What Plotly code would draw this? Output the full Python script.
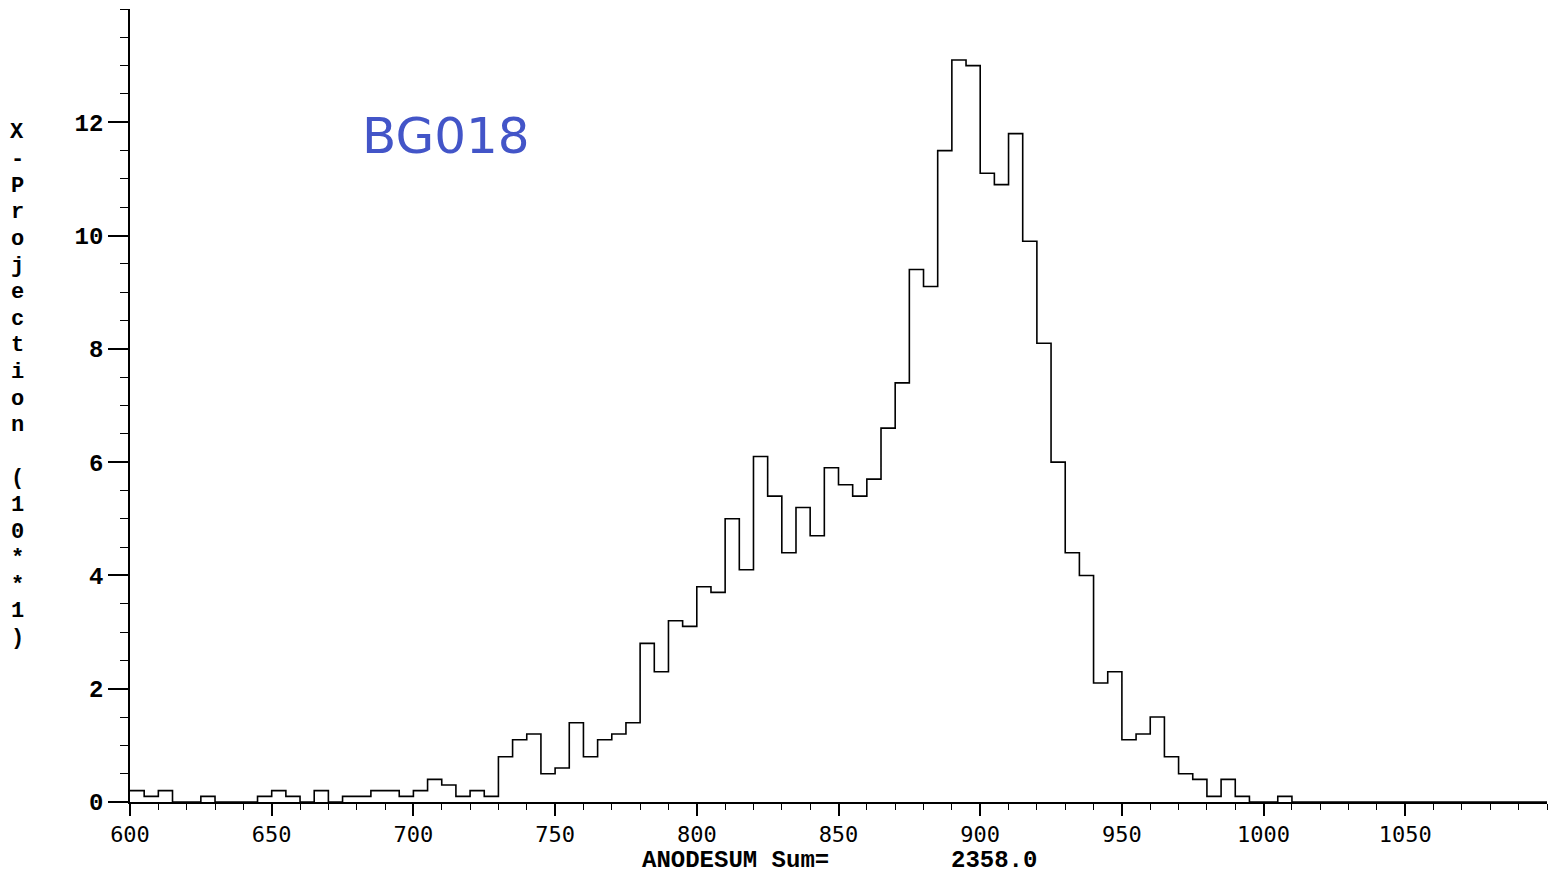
import plotly.graph_objects as go

# ---- data (values in units of 10**1 counts), bins of width 5 from 600 ----
bin_start = 600
bin_width = 5
counts = [
    0.2, 0.1, 0.2, 0.0, 0.0, 0.1, 0.0, 0.0, 0.0, 0.1,   # 600-645
    0.2, 0.1, 0.0, 0.2, 0.0, 0.1, 0.1, 0.2, 0.2, 0.1,   # 650-695
    0.2, 0.4, 0.3, 0.1, 0.2, 0.1, 0.8, 1.1, 1.2, 0.5,   # 700-745
    0.6, 1.4, 0.8, 1.1, 1.2, 1.4, 2.8, 2.3, 3.2, 3.1,   # 750-795
    3.8, 3.7, 5.0, 4.1, 6.1, 5.4, 4.4, 5.2, 4.7, 5.9,   # 800-845
    5.6, 5.4, 5.7, 6.6, 7.4, 9.4, 9.1, 11.5, 13.1, 13.0,  # 850-895
    11.1, 10.9, 11.8, 9.9, 8.1, 6.0, 4.4, 4.0, 2.1, 2.3,  # 900-945
    1.1, 1.2, 1.5, 0.8, 0.5, 0.4, 0.1, 0.4, 0.1, 0.0,   # 950-995
    0.0, 0.1, 0.0, 0.0, 0.0, 0.0, 0.0, 0.0, 0.0, 0.0,   # 1000-1045
    0.0, 0.0, 0.0, 0.0, 0.0, 0.0, 0.0, 0.0, 0.0, 0.0,   # 1050-1095
]
x_ticks = [600, 650, 700, 750, 800, 850, 900, 950, 1000, 1050]
y_ticks = [0, 2, 4, 6, 8, 10, 12]
y_title = "X-Projection (10**1)"
x_title_left = "ANODESUM Sum="
x_title_right = "2358.0"
stamp = "BG018"

edges = [bin_start + i * bin_width for i in range(len(counts) + 1)]
ys = counts + [counts[-1]]

W, H = 1554, 873
L, R, T, B = 130, 7, 9, 71
pw, ph = W - L - R, H - T - B


def px(xp):
    return (xp - L) / pw


def py(yp):
    return (H - B - yp) / ph


MONO = "Liberation Mono"

fig = go.Figure()
fig.add_trace(go.Scatter(
    x=edges, y=ys, mode="lines", line=dict(shape="hv", color="black", width=1.6),
    hoverinfo="skip", showlegend=False,
))

fig.update_layout(
    width=W, height=H,
    margin=dict(l=L, r=R, t=T, b=B, autoexpand=False),
    paper_bgcolor="white", plot_bgcolor="white",
    showlegend=False,
    xaxis=dict(
        range=[600, 1100], showgrid=False, zeroline=False,
        showline=True, linecolor="black", linewidth=1.6,
        ticks="outside", ticklen=12, tickwidth=1.5, tickcolor="black",
        tickvals=x_ticks, ticktext=[str(v) for v in x_ticks],
        tickfont=dict(family="DejaVu Sans Mono", size=22, color="black"),
        minor=dict(dtick=10, ticks="outside", ticklen=6, tickwidth=1.2, tickcolor="black"),
        automargin=False,
    ),
    yaxis=dict(
        range=[0, 14], showgrid=False, zeroline=False,
        showline=True, linecolor="black", linewidth=1.6,
        ticks="outside", ticklen=20, tickwidth=1.5, tickcolor="black",
        tickvals=y_ticks, ticktext=[str(v) for v in y_ticks],
        tickfont=dict(family=MONO, size=24, color="black", weight="bold"),
        minor=dict(dtick=0.5, ticks="outside", ticklen=8, tickwidth=1.2, tickcolor="black"),
        automargin=False,
    ),
)

annotations = []
# stacked vertical y-axis title
for i, ch in enumerate(y_title):
    if ch == " ":
        continue
    annotations.append(dict(
        x=px(17), y=py(133 + i * 26.6), xref="paper", yref="paper",
        text=ch, showarrow=False, xanchor="center", yanchor="middle",
        font=dict(family=MONO, size=22, color="black", weight="bold"),
    ))
annotations.append(dict(
    x=px(640), y=py(860), xref="paper", yref="paper", text=x_title_left,
    showarrow=False, xanchor="left", yanchor="middle",
    font=dict(family=MONO, size=24, color="black", weight="bold"),
))
annotations.append(dict(
    x=px(1039), y=py(860), xref="paper", yref="paper", text=x_title_right,
    showarrow=False, xanchor="right", yanchor="middle",
    font=dict(family=MONO, size=24, color="black", weight="bold"),
))
annotations.append(dict(
    x=px(446), y=py(136), xref="paper", yref="paper", text=stamp,
    showarrow=False, xanchor="center", yanchor="middle",
    font=dict(family="DejaVu Sans", size=50, color="#4355c8"),
))
fig.update_layout(annotations=annotations)

fig.write_html(
    "out.html",
    config={"displayModeBar": False},
    post_script="document.body.style.margin='0';document.body.style.overflow='hidden';",
)
